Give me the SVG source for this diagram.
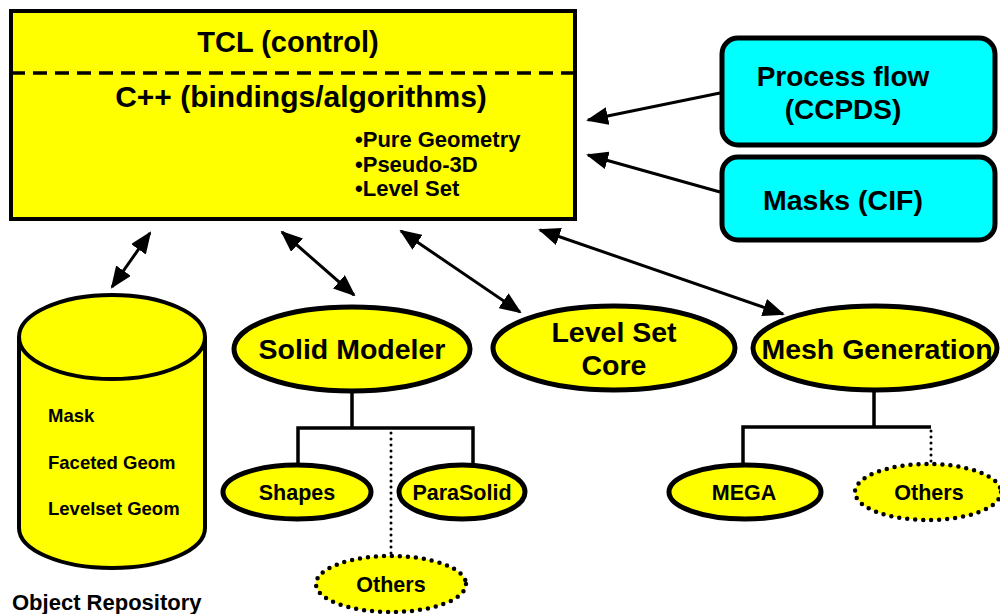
<svg xmlns="http://www.w3.org/2000/svg" width="1000" height="614" viewBox="0 0 1000 614">
<style>
text{font-family:"Liberation Sans",Arial,sans-serif;font-weight:bold;fill:#000}
.big{font-size:29px;text-anchor:middle}
.mid{font-size:21.5px;text-anchor:middle}
.bul{font-size:22px}
.cyl{font-size:18.5px}
.yel{fill:#ffff00;stroke:#000;stroke-width:5}
.cy{fill:#00ffff;stroke:#000;stroke-width:5}
.dot{fill:#ffff00;stroke:#000;stroke-width:4.5;stroke-dasharray:0 8;stroke-linecap:round}
.ln{stroke:#000;stroke-width:3.5;fill:none}
.dl{stroke:#000;stroke-width:3;fill:none;stroke-dasharray:0 6;stroke-linecap:round}
.ar{stroke:#000;stroke-width:3;fill:none}
</style>
<defs>
<marker id="ah" markerUnits="userSpaceOnUse" markerWidth="22" markerHeight="18" refX="20" refY="9" orient="auto-start-reverse" viewBox="0 0 22 18">
<path d="M0,0 L22,9 L0,18 Z" fill="#000"/>
</marker>
</defs>
<g id="main">
<rect x="11" y="11" width="564" height="208" fill="#ffff00" stroke="#000" stroke-width="4"/>
<line x1="11" y1="73" x2="575" y2="73" stroke="#000" stroke-width="3.5" stroke-dasharray="14 8"/>
<text class="big" x="288" y="52">TCL (control)</text>
<text class="big" x="301" y="107" style="font-size:30px">C++ (bindings/algorithms)</text>
<text class="bul" x="355" y="147">•Pure Geometry</text>
<text class="bul" x="355" y="172">•Pseudo-3D</text>
<text class="bul" x="355" y="196">•Level Set</text>
</g>
<g id="process">
<rect x="722" y="38" width="273" height="107" rx="16" class="cy"/>
<text class="big" x="843" y="86" style="font-size:28px">Process flow</text>
<text class="big" x="843" y="119" style="font-size:28px">(CCPDS)</text>
</g>
<g id="masks">
<rect x="722" y="157" width="273" height="83" rx="16" class="cy"/>
<text class="big" x="843" y="210" style="font-size:28.5px">Masks (CIF)</text>
</g>
<g id="repo">
<path d="M19,337 L19,528 A93,40 0 0 0 205,528 L205,337" fill="#ffff00" stroke="#000" stroke-width="4"/>
<ellipse cx="112" cy="337" rx="93" ry="42" fill="#ffff00" stroke="#000" stroke-width="4"/>
<text class="cyl" x="48" y="422">Mask</text>
<text class="cyl" x="48" y="469">Faceted Geom</text>
<text class="cyl" x="48" y="515">Levelset Geom</text>
<text x="12" y="610" style="font-size:22px">Object Repository</text>
</g>
<g id="solid">
<ellipse cx="352" cy="349" rx="118" ry="42" class="yel"/>
<text class="big" x="352" y="359" style="font-size:28.5px">Solid Modeler</text>
</g>
<g id="levelset">
<ellipse cx="614" cy="348" rx="121" ry="42" class="yel"/>
<text class="big" x="614" y="342" style="font-size:28.5px">Level Set</text>
<text class="big" x="614" y="375" style="font-size:28.5px">Core</text>
</g>
<g id="mesh">
<ellipse cx="875" cy="348" rx="122" ry="42" class="yel"/>
<text class="big" x="877" y="359" style="font-size:28.5px">Mesh Generation</text>
</g>
<g id="shapes">
<ellipse cx="297" cy="492" rx="74" ry="27" class="yel"/>
<text class="mid" x="297" y="500">Shapes</text>
</g>
<g id="parasolid">
<ellipse cx="462" cy="492" rx="63" ry="27" class="yel"/>
<text class="mid" x="462" y="500">ParaSolid</text>
</g>
<g id="others1">
<ellipse cx="391" cy="584" rx="75" ry="28" class="dot"/>
<text class="mid" x="391" y="592">Others</text>
</g>
<g id="mega">
<ellipse cx="745" cy="492" rx="76" ry="27" class="yel"/>
<text class="mid" x="744" y="500">MEGA</text>
</g>
<g id="others2">
<ellipse cx="928" cy="492" rx="73" ry="28" class="dot"/>
<text class="mid" x="929" y="500">Others</text>
</g>
<g id="connectors">
<line x1="720" y1="93" x2="588" y2="120" class="ar" marker-end="url(#ah)"/>
<line x1="720" y1="192" x2="588" y2="155" class="ar" marker-end="url(#ah)"/>
<line x1="112" y1="287" x2="150" y2="233" class="ar" marker-start="url(#ah)" marker-end="url(#ah)"/>
<line x1="282" y1="232" x2="354" y2="295" class="ar" marker-start="url(#ah)" marker-end="url(#ah)"/>
<line x1="401" y1="231" x2="520" y2="312" class="ar" marker-start="url(#ah)" marker-end="url(#ah)"/>
<line x1="540" y1="230" x2="783" y2="314" class="ar" marker-start="url(#ah)" marker-end="url(#ah)"/>
<polyline points="352,391 352,428" class="ln"/>
<polyline points="298,465 298,428 473,428 473,465" class="ln"/>
<line x1="391" y1="433" x2="391" y2="556" class="dl"/>
<polyline points="874,390 874,427" class="ln"/>
<polyline points="743,465 743,427 931,427" class="ln"/>
<line x1="931" y1="431" x2="931" y2="463" class="dl"/>
</g>
</svg>
